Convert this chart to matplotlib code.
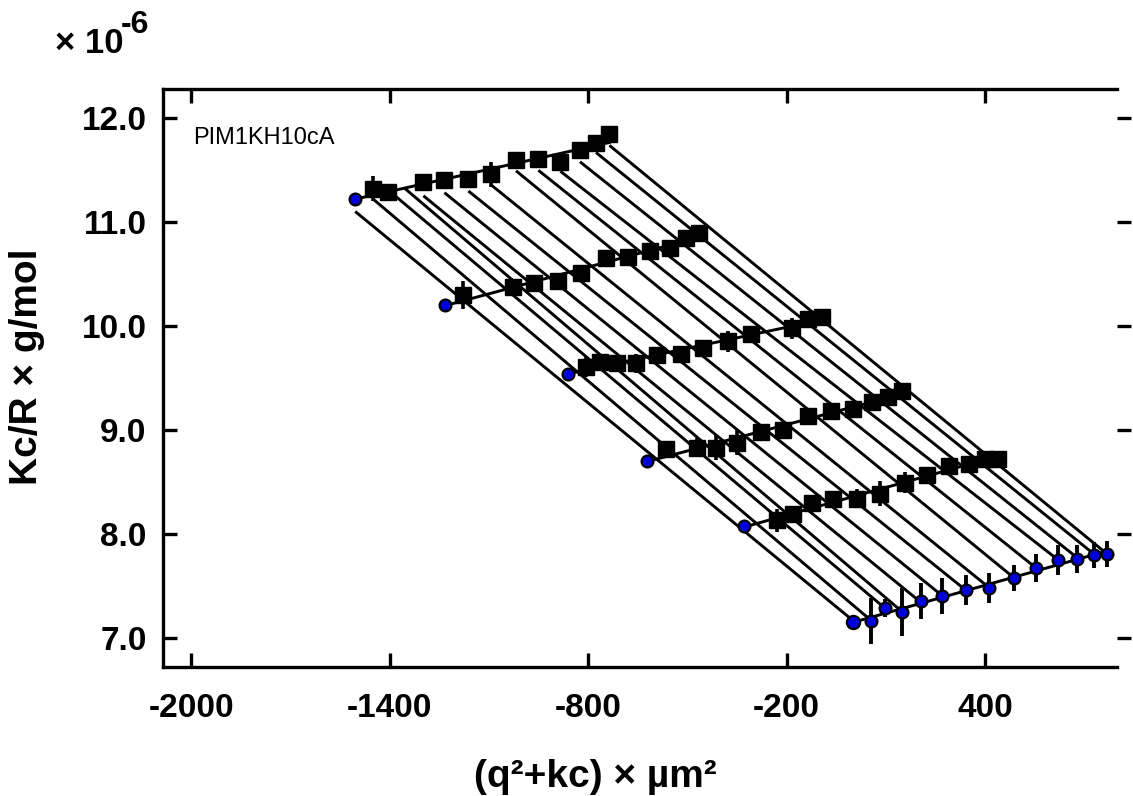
import numpy as np
import matplotlib
matplotlib.use("Agg")
import matplotlib.pyplot as plt
from matplotlib.lines import TICKRIGHT

nan = np.nan

# ---------------- data (Zimm plot, Kc/R in units of 1e-6 g/mol) ----------------
sample = "PIM1KH10cA"
# q^2 of the 13 detector angles (um^-2)
q2 = [55.0, 98.3, 148.8, 206.2, 269.8, 342.3, 410.7, 486.3, 554.0, 620.6, 679.8, 728.2, 768.7]
# k*c shift of each concentration row (highest concentration first)
kc = [-1504.5, -1232.4, -862.5, -620.6, -328.1]

# measured Kc/R per concentration row (one value per angle)
kcr_c1 = [11.320, 11.288, nan, 11.390, 11.403, 11.413, 11.461, 11.599, 11.605, 11.582, 11.695, 11.765, 11.846]
kcr_c2 = [10.299, nan, nan, 10.379, 10.418, 10.434, 10.508, 10.653, 10.662, 10.723, 10.755, 10.851, 10.893]
kcr_c3 = [9.609, 9.652, 9.648, 9.642, 9.722, 9.738, 9.792, 9.857, 9.921, nan, 9.979, 10.068, 10.090]
kcr_c4 = [8.817, nan, 8.833, 8.833, 8.878, 8.984, 9.000, 9.138, 9.186, 9.209, 9.267, 9.321, 9.375]
kcr_c5 = [nan, 8.134, 8.192, 8.300, 8.343, 8.343, 8.391, 8.497, 8.567, 8.656, 8.679, 8.721, 8.728]

err_c1 = [0.12, 0.05, nan, 0.05, 0.05, 0.05, 0.12, 0.05, 0.05, 0.05, 0.05, 0.05, 0.05]
err_c2 = [0.135, nan, nan, 0.05, 0.05, 0.05, 0.05, 0.05, 0.05, 0.05, 0.05, 0.05, 0.05]
err_c3 = [0.10, 0.05, 0.05, 0.09, 0.05, 0.05, 0.05, 0.10, 0.05, nan, 0.10, 0.05, 0.05]
err_c4 = [0.05, nan, 0.09, 0.12, 0.12, 0.05, 0.05, 0.05, 0.05, 0.05, 0.05, 0.05, 0.05]
err_c5 = [nan, 0.11, 0.05, 0.05, 0.05, 0.09, 0.12, 0.10, 0.05, 0.05, 0.05, 0.05, 0.05]

# extrapolations
kcr_q0 = [11.220, 10.203, 9.539, 8.705, 8.079]          # q^2 -> 0 for each concentration
kcr_c0 = [7.165, 7.290, 7.251, 7.354, 7.402, 7.460, 7.486, 7.578, 7.675, 7.749, 7.758, 7.797, 7.807]  # c -> 0
err_c0 = [0.221, 0.087, 0.231, 0.173, 0.173, 0.144, 0.144, 0.125, 0.135, 0.144, 0.135, 0.125, 0.125]
kcr_q0c0 = 7.155

x_ticks = [-2000, -1400, -800, -200, 400]
y_ticks = [7.0, 8.0, 9.0, 10.0, 11.0, 12.0]

# ---------------- plotting ----------------
plt.rcParams["font.family"] = ["Liberation Sans", "DejaVu Sans"]
fig = plt.figure(figsize=(11.33, 7.96), dpi=100)
ax = fig.add_axes([0.1441, 0.1621, 0.8417, 0.7258])

rows = [kcr_c1, kcr_c2, kcr_c3, kcr_c4, kcr_c5]
errs = [err_c1, err_c2, err_c3, err_c4, err_c5]
q2a = np.array(q2)
LW = 2.1
blue = "#0000dd"

# constant-angle fit lines (across concentrations), extrapolated to c = 0
angle_q2 = [0.0] + q2
for j, qq in enumerate(angle_q2):
    xs, ys = [], []
    for r in range(len(rows)):
        v = kcr_q0[r] if j == 0 else rows[r][j - 1]
        if not np.isnan(v):
            xs.append(qq + kc[r])
            ys.append(v)
    p = np.polyfit(xs, ys, 1)
    xl = np.array([qq + kc[0], qq])
    ax.plot(xl, np.polyval(p, xl), color="black", lw=LW, zorder=1, solid_capstyle="butt")

# constant-concentration fit lines (across angles), extrapolated to q^2 = 0
for r in range(len(rows)):
    y = np.array(rows[r])
    m = ~np.isnan(y)
    x = q2a[m] + kc[r]
    p = np.polyfit(x, y[m], 1)
    xl = np.array([kc[r], x.max()])
    ax.plot(xl, np.polyval(p, xl), color="black", lw=LW, zorder=2)
p0 = np.polyfit(q2a, kcr_c0, 1)
xl = np.array([0.0, q2a.max()])
ax.plot(xl, np.polyval(p0, xl), color="black", lw=LW, zorder=2)

# measured points
for r in range(len(rows)):
    y = np.array(rows[r])
    e = np.array(errs[r])
    ax.errorbar(q2a + kc[r], y, yerr=e, fmt="s", color="black", ms=11,
                mec="black", mfc="black", elinewidth=2.6, capsize=0, zorder=3)

# extrapolated points
ax.errorbar(q2a, kcr_c0, yerr=err_c0, fmt="o", ms=8.5, mfc=blue, mec="black",
            mew=1.6, ecolor="black", elinewidth=2.8, capsize=0, zorder=4)
ax.plot(kc, kcr_q0, "o", ms=8.5, mfc=blue, mec="black", mew=1.6, zorder=4, ls="none")
ax.plot([0.0], [kcr_q0c0], "o", ms=9.5, mfc=blue, mec="black", mew=1.6, zorder=4)

ax.set_xlim(-2085, 799)
ax.set_ylim(6.724, 12.279)
ax.set_xticks(x_ticks)
ax.set_yticks(y_ticks)
ax.set_xticklabels([str(t) for t in x_ticks])
ax.set_yticklabels([f"{t:.1f}" for t in y_ticks])
ax.tick_params(direction="in", length=10, width=2.4, top=True, right=True,
               labelsize=24, pad=19)
ax.tick_params(axis="y", pad=12)
for t in ax.yaxis.get_major_ticks():
    t.tick2line.set_marker(TICKRIGHT)
for lab in ax.get_xticklabels() + ax.get_yticklabels():
    lab.set_fontweight("bold")
for s in ax.spines.values():
    s.set_linewidth(2.4)
ax.spines["right"].set_visible(False)

ax.set_xlabel("(q²+kc) × µm²", fontsize=28, fontweight="bold")
ax.xaxis.set_label_coords(0.453, -0.16)
ax.set_ylabel("Kc/R × g/mol", fontsize=28, fontweight="bold")
ax.yaxis.set_label_coords(-0.124, 0.52)
ax.text(0.031, 0.935, sample, transform=ax.transAxes, fontsize=17, va="top", ha="left")

fig.text(55 / 1133, 1 - 53 / 796, "× 10", fontsize=25, fontweight="bold", ha="left", va="baseline")
fig.text(121 / 1133, 1 - 33 / 796, "-6", fontsize=23, fontweight="bold", ha="left", va="baseline")

fig.savefig("out.png", dpi=100)
